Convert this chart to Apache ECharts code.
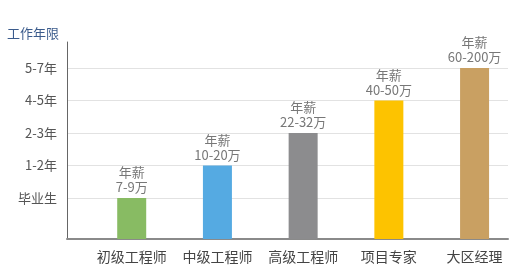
<!DOCTYPE html>
<html>
<head>
<meta charset="utf-8">
<script src="https://cdn.jsdelivr.net/npm/echarts@6/dist/echarts.min.js"></script>
<style>html,body{margin:0;padding:0;background:#fff}#c{width:529px;height:272px}</style>
</head>
<body>
<div id="c"></div>
<script>
const categories = ['初级工程师', '中级工程师', '高级工程师', '项目专家', '大区经理'];
const levelLabels = ['毕业生', '1-2年', '2-3年', '4-5年', '5-7年'];
const levelValues = [1, 2, 3, 4, 5];
const barLevels = [1, 2, 3, 4, 5];
const salaries = ['7-9万', '10-20万', '22-32万', '40-50万', '60-200万'];
const colors = ['#88bb63', '#55aae2', '#8c8c8e', '#fdc300', '#c9a062'];

const chart = echarts.init(document.getElementById('c'), null, {renderer: 'canvas'});
chart.setOption({
  animation: false,
  grid: {left: 67, right: 21, top: 42, bottom: 33},
  graphic: [{
    type: 'text', left: 7, top: 27,
    style: {text: '工作年限', fill: '#3b5b8c', font: '13px "Noto Sans CJK SC"'}
  }],
  xAxis: {
    type: 'value', min: -0.755, max: 4.39,
    axisLine: {show: true, onZero: false, lineStyle: {color: '#8a8a8a', width: 2}},
    axisTick: {show: false, customValues: [0, 1, 2, 3, 4]},
    splitLine: {show: false},
    axisLabel: {
      customValues: [0, 1, 2, 3, 4],
      formatter: v => categories[v] || '',
      color: '#444', fontSize: 14, margin: 11,
      fontFamily: '"Noto Sans CJK SC"'
    }
  },
  yAxis: {
    type: 'value', min: -0.26, max: 5.8, startValue: -0.26,
    axisLine: {show: true, onZero: false, lineStyle: {color: '#666', width: 1}},
    axisTick: {show: false, customValues: levelValues},
    splitLine: {show: true, lineStyle: {color: '#e2e2e2', width: 1}},
    axisLabel: {
      customValues: levelValues,
      formatter: v => levelLabels[levelValues.indexOf(v)] || '',
      color: '#555', fontSize: 13, margin: 10,
      fontFamily: '"Noto Sans CJK SC"'
    }
  },
  series: [{
    type: 'bar',
    barWidth: 29,
    data: barLevels.map((v, i) => ({
      value: [i, v],
      itemStyle: {color: colors[i]},
      label: {formatter: '年薪\n' + salaries[i]}
    })),
    label: {
      show: true, position: 'top', distance: 3,
      color: '#777', fontSize: 13, lineHeight: 15,
      fontFamily: '"Noto Sans CJK SC"'
    }
  }]
});
</script>
</body>
</html>
